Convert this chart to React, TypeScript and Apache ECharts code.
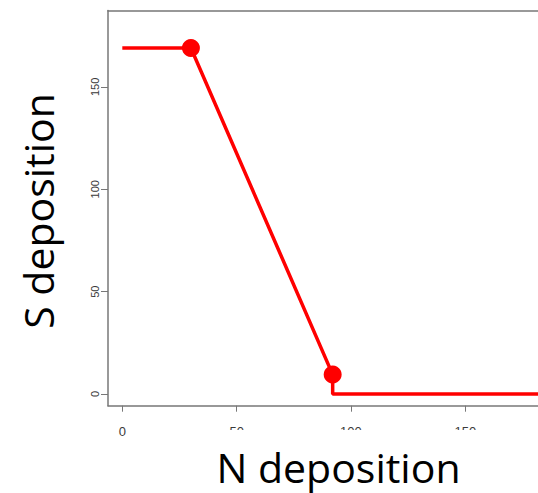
import React, { useEffect, useRef } from "react";
import * as echarts from "echarts";

// Path of the S/N deposition boundary
const pathN = [0, 30, 92, 92, 200];
const pathS = [169, 169, 9.5, 0, 0];

// Highlighted break points
const pointN = [30, 92];
const pointS = [169, 9.5];

const tickValues = [0, 50, 100, 150];

const xTitle = "N deposition";
const yTitle = "S deposition";

export default function App() {
  const ref = useRef<HTMLDivElement>(null);

  useEffect(() => {
    document.body.style.margin = "0";
    const chart = echarts.init(ref.current!, null, { renderer: "svg" });
    const axisGrey = "#777777";
    chart.setOption({
      animation: false,
      backgroundColor: "#ffffff",
      grid: { left: 108, top: 10.5, right: 0, bottom: 87.3, containLabel: false },
      xAxis: [
        {
          type: "value",
          min: -6.26,
          max: 181.8,
          position: "bottom",
          axisLine: { show: true, onZero: false, lineStyle: { color: axisGrey, width: 1.5 } },
          axisTick: {
            show: true,
            length: 6,
            customValues: tickValues,
            lineStyle: { color: axisGrey, width: 1 },
          },
          axisLabel: {
            customValues: tickValues,
            margin: 19,
            fontFamily: "Liberation Sans",
            fontSize: 13,
            color: "#3a3a3a",
          },
          splitLine: { show: false },
        },
        {
          type: "value",
          min: -6.26,
          max: 181.8,
          position: "top",
          axisLine: { show: true, onZero: false, lineStyle: { color: axisGrey, width: 1.5 } },
          axisTick: { show: false },
          axisLabel: { show: false },
          splitLine: { show: false },
        },
      ],
      yAxis: {
        type: "value",
        min: -5.7,
        max: 187.3,
        axisLine: { show: true, onZero: false, lineStyle: { color: axisGrey, width: 1.5 } },
        axisTick: {
          show: true,
          length: 7,
          customValues: tickValues,
          lineStyle: { color: axisGrey, width: 1 },
        },
        axisLabel: {
          customValues: tickValues,
          rotate: 90,
          margin: 8,
          fontFamily: "Liberation Sans",
          fontSize: 11,
          color: "#3a3a3a",
        },
        splitLine: { show: false },
      },
      series: [
        {
          type: "line",
          data: pathN.map((n, i) => [n, pathS[i]]),
          symbol: "none",
          clip: true,
          lineStyle: { color: "#ff0000", width: 3.5 },
        },
        {
          type: "scatter",
          data: pointN.map((n, i) => [n, pointS[i]]),
          symbol: "circle",
          symbolSize: 18,
          itemStyle: { color: "#ff0000", opacity: 1 },
        },
      ],
      graphic: [
        {
          type: "rect",
          z: 100,
          shape: { x: 180, y: 430, width: 358, height: 63 },
          style: { fill: "#ffffff" },
        },
        {
          type: "text",
          z: 101,
          x: 338.5,
          y: 467,
          style: {
            text: xTitle,
            fontFamily: "Open Sans",
            fontSize: 41,
            lineHeight: 44,
            fill: "#000000",
            textAlign: "center",
            textVerticalAlign: "middle",
          },
        },
        {
          type: "text",
          z: 101,
          x: 38,
          y: 211,
          rotation: Math.PI / 2,
          style: {
            text: yTitle,
            fontFamily: "Open Sans",
            fontSize: 41,
            lineHeight: 44,
            fill: "#000000",
            textAlign: "center",
            textVerticalAlign: "middle",
          },
        },
      ],
    });
    return () => chart.dispose();
  }, []);

  return <div ref={ref} style={{ width: 538, height: 493 }} />;
}
